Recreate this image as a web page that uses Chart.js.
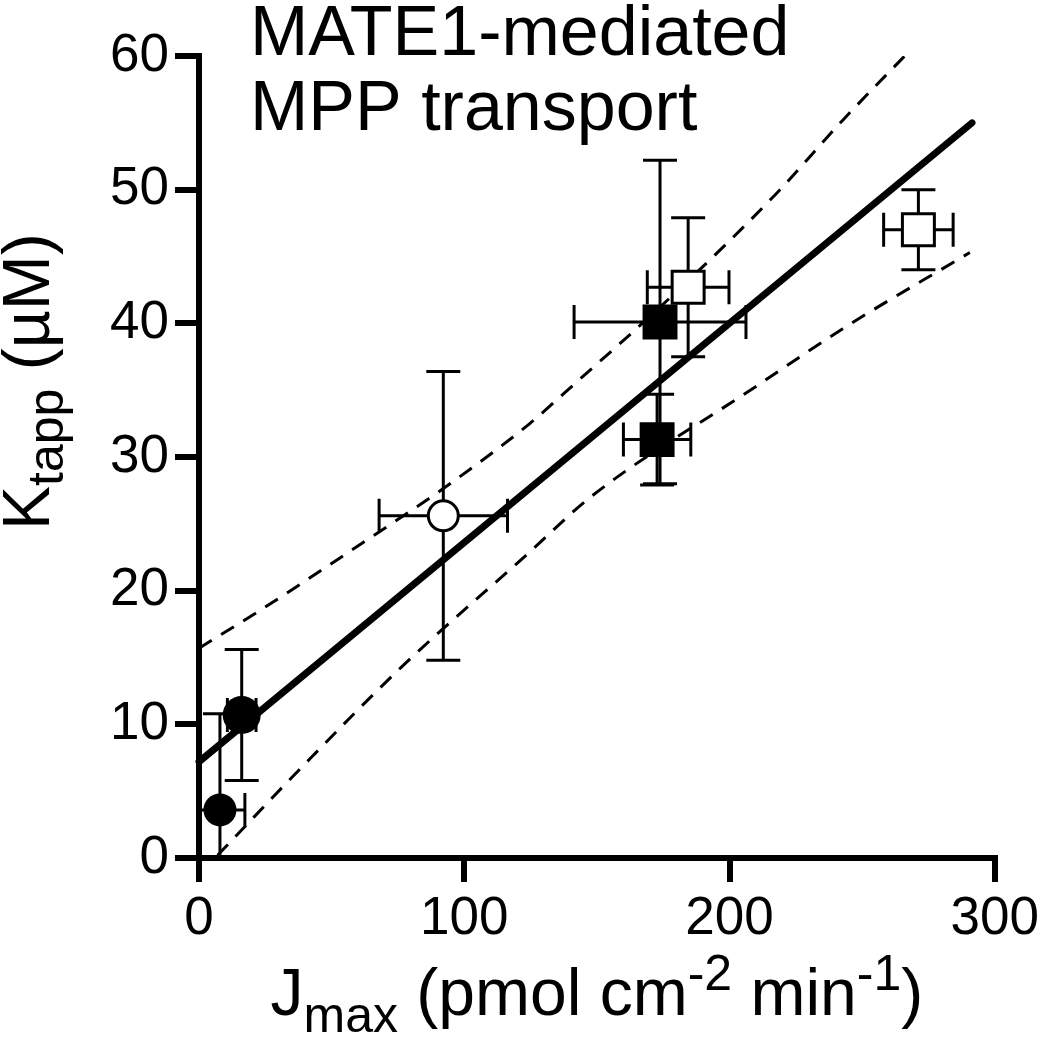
<!DOCTYPE html>
<html><head><meta charset="utf-8">
<script src="https://cdn.jsdelivr.net/npm/chart.js@4.4.0/dist/chart.umd.min.js"></script>
<style>html,body{margin:0;padding:0;background:#fff;overflow:hidden}</style>
</head><body>
<canvas id="c" width="1045" height="1050"></canvas>
<script>
// ---------- data ----------
const xTickValues = [0, 100, 200, 300];
const yTickValues = [0, 10, 20, 30, 40, 50, 60];
const titleLines = ['MATE1-mediated', 'MPP transport'];
const xLabelParts = [['J','n'],['max','sub'],[' (pmol cm','n'],['-2','sup'],[' min','n'],['-1','sup'],[')','n']];
const yLabelParts = [['K','n'],['tapp','sub'],[' (\u00B5M)','n']];

// filled circles
const filledCircleX = [7.9, 16.1];
const filledCircleY = [3.6, 10.7];
const filledCircleXErr = [9.4, 5.4];
const filledCircleYErr = [7.2, 4.9];
// open circle
const openCircleX = [92.1];
const openCircleY = [25.6];
const openCircleXErr = [24.2];
const openCircleYErr = [10.8];
// filled squares
const filledSquareX = [173.8, 172.7];
const filledSquareY = [40.1, 31.3];
const filledSquareXErr = [32.4, 12.7];
const filledSquareYErr = [12.1, 3.4];
// open squares
const openSquareX = [184.4, 271.2];
const openSquareY = [42.7, 47.0];
const openSquareXErr = [15.4, 13.1];
const openSquareYErr = [5.2, 3.0];
// regression line
const fitX = [0, 291.4];
const fitY = [7.2, 55.0];
// 95% confidence bands
const upperBandX = [0, 22, 60.3, 92.5, 124.7, 137.8, 177.5, 217.6, 242.7, 267];
const upperBandY = [15.7, 18.4, 23.4, 27.7, 32.5, 34.8, 41.9, 49.7, 55.2, 60.2];
const lowerBandX = [7, 37.8, 76.4, 124.7, 147.6, 209.4, 242.7, 290.6];
const lowerBandY = [0.2, 6.6, 14.3, 22.9, 27.0, 35.2, 39.6, 45.3];

// ---------- helpers ----------
const FONT = "'Liberation Sans', Arial, Helvetica, sans-serif";
const pts = (xs, ys) => xs.map((x, i) => ({x: x, y: ys[i]}));

const errorSets = {
  0: [filledCircleXErr, filledCircleYErr],
  1: [openCircleXErr, openCircleYErr],
  2: [filledSquareXErr, filledSquareYErr],
  3: [openSquareXErr, openSquareYErr]
};

const errorBarPlugin = {
  id: 'errorBars',
  beforeDatasetsDraw(chart) {
    const ctx = chart.ctx, ca = chart.chartArea;
    const xs = chart.scales.x, ys = chart.scales.y;
    const cap = 17;
    ctx.save();
    ctx.beginPath();
    ctx.rect(ca.left, ca.top - 20, ca.right - ca.left + 20, ca.bottom - ca.top + 20);
    ctx.clip();
    ctx.strokeStyle = '#000';
    ctx.lineWidth = 3;
    ctx.lineCap = 'butt';
    Object.keys(errorSets).forEach(k => {
      const di = +k;
      const ds = chart.data.datasets[di];
      const [xe, ye] = errorSets[k];
      ds.data.forEach((p, i) => {
        const px = xs.getPixelForValue(p.x), py = ys.getPixelForValue(p.y);
        const xl = xs.getPixelForValue(p.x - xe[i]), xr = xs.getPixelForValue(p.x + xe[i]);
        const yt = ys.getPixelForValue(p.y + ye[i]), yb = ys.getPixelForValue(p.y - ye[i]);
        ctx.beginPath();
        ctx.moveTo(xl, py); ctx.lineTo(xr, py);
        ctx.moveTo(xl, py - cap); ctx.lineTo(xl, py + cap);
        ctx.moveTo(xr, py - cap); ctx.lineTo(xr, py + cap);
        ctx.moveTo(px, yt); ctx.lineTo(px, yb);
        ctx.moveTo(px - cap, yt); ctx.lineTo(px + cap, yt);
        ctx.moveTo(px - cap, yb); ctx.lineTo(px + cap, yb);
        ctx.stroke();
      });
    });
    ctx.restore();
  }
};

function richWidth(ctx, parts, F, S) {
  let w = 0;
  parts.forEach(([t, k]) => {
    ctx.font = (k === 'n' ? F : S) + 'px ' + FONT;
    w += ctx.measureText(t).width;
  });
  return w;
}
function drawRich(ctx, parts, x, y, F, S, subOff, supOff) {
  parts.forEach(([t, k]) => {
    ctx.font = (k === 'n' ? F : S) + 'px ' + FONT;
    const dy = k === 'sub' ? subOff : (k === 'sup' ? supOff : 0);
    ctx.fillText(t, x, y + dy);
    x += ctx.measureText(t).width;
  });
}

const textPlugin = {
  id: 'texts',
  afterDraw(chart) {
    const ctx = chart.ctx, ca = chart.chartArea;
    ctx.save();
    ctx.fillStyle = '#000';
    ctx.textAlign = 'left';
    ctx.textBaseline = 'alphabetic';
    ctx.font = '70px ' + FONT;
    ctx.fillText(titleLines[0], 250, 55);
    ctx.fillText(titleLines[1], 250, 130);
    // x axis title
    const F = 66, S = 50;
    const wx = richWidth(ctx, xLabelParts, F, S);
    drawRich(ctx, xLabelParts, (ca.left + ca.right) / 2 - wx / 2, 1015, F, S, 17, -25);
    // y axis title
    ctx.translate(49, 530);
    ctx.rotate(-Math.PI / 2);
    drawRich(ctx, yLabelParts, 0, 0, F, S, 14, -25);
    ctx.restore();
  }
};

const ctx = document.getElementById('c').getContext('2d');
new Chart(ctx, {
  type: 'scatter',
  data: {
    datasets: [
      { data: pts(filledCircleX, filledCircleY), pointStyle: 'circle', pointRadius: [16.5, 19],
        backgroundColor: '#000', borderWidth: 0, order: 0, clip: false },
      { data: pts(openCircleX, openCircleY), pointStyle: 'circle', pointRadius: 15,
        backgroundColor: '#fff', borderColor: '#000', borderWidth: 3, order: 0, clip: false },
      { data: pts(filledSquareX, filledSquareY), pointStyle: 'rect', pointRadius: 24.7,
        backgroundColor: '#000', borderWidth: 0, order: 0, clip: false },
      { data: pts(openSquareX, openSquareY), pointStyle: 'rect', pointRadius: 22.6,
        backgroundColor: '#fff', borderColor: '#000', borderWidth: 3, order: 0, clip: false },
      { data: pts(fitX, fitY), showLine: true, pointRadius: 0, borderColor: '#000',
        borderWidth: 7, borderCapStyle: 'round', order: 1, clip: false },
      { data: pts(upperBandX, upperBandY), showLine: true, pointRadius: 0, borderColor: '#000',
        borderWidth: 3, borderDash: [15, 11], cubicInterpolationMode: 'monotone', order: 2 },
      { data: pts(lowerBandX, lowerBandY), showLine: true, pointRadius: 0, borderColor: '#000',
        borderWidth: 3, borderDash: [15, 11], cubicInterpolationMode: 'monotone', order: 2 }
    ]
  },
  options: {
    responsive: false,
    animation: false,
    devicePixelRatio: 1,
    layout: { padding: { left: 0, top: 56, right: 45, bottom: 0 } },
    plugins: { legend: { display: false }, tooltip: { enabled: false }, title: { display: false } },
    scales: {
      x: {
        type: 'linear', min: 0, max: 300,
        afterFit: s => { s.height = 192; },
        afterBuildTicks: s => { s.ticks = xTickValues.map(v => ({value: v})); },
        border: { display: true, color: '#000', width: 6 },
        grid: { drawOnChartArea: false, drawTicks: true, tickLength: 24, lineWidth: 6, color: '#000', tickColor: '#000' },
        ticks: { color: '#000', font: { family: FONT, size: 53 }, padding: 6, maxRotation: 0 }
      },
      y: {
        type: 'linear', min: 0, max: 60,
        afterFit: s => { s.width = 199; },
        afterBuildTicks: s => { s.ticks = yTickValues.map(v => ({value: v})); },
        border: { display: true, color: '#000', width: 6 },
        grid: { drawOnChartArea: false, drawTicks: true, tickLength: 24, lineWidth: 6, color: '#000', tickColor: '#000' },
        ticks: { color: '#000', font: { family: FONT, size: 53 }, padding: 6 }
      }
    }
  },
  plugins: [errorBarPlugin, textPlugin]
});
</script>
</body></html>
